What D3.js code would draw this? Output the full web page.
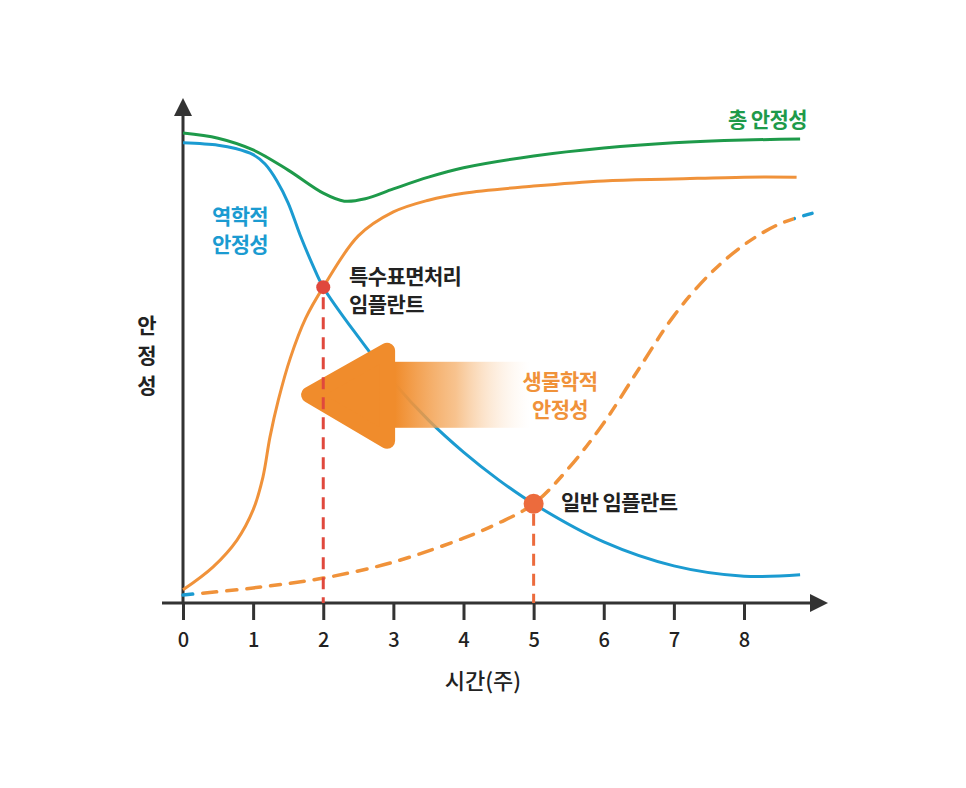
<!DOCTYPE html>
<html>
<head>
<meta charset="utf-8">
<script src="https://cdn.jsdelivr.net/npm/d3@7"></script>
<style>
  html, body { margin: 0; padding: 0; background: #fff; }
  svg { display: block; font-family: "Noto Sans CJK KR", "Noto Sans", sans-serif; }
</style>
</head>
<body>
<svg id="plot" width="966" height="788"></svg>
<script>
// weeks on the x axis
var weekTicks = [0, 1, 2, 3, 4, 5, 6, 7, 8];

// total stability (green)
var totalX = [0, 0.5, 1, 1.5, 2, 2.3, 2.6, 3, 3.5, 4, 5, 6, 7, 8, 8.8];
var totalY = [100, 98.9, 96.4, 92.1, 87.2, 85.5, 86.0, 88.1, 90.6, 92.6, 95.1, 96.8, 97.9, 98.5, 98.7];

// mechanical stability (blue)
var mechX = [0, 0.5, 0.75, 1, 1.17, 1.34, 1.5, 1.67, 1.85, 2, 2.5, 3, 3.5, 4, 4.5, 5, 6, 7, 8, 8.8];
var mechY = [97.9, 97.4, 96.7, 95.4, 93.4, 89.8, 85.1, 78.3, 71.9, 67.2, 56.6, 47.0, 38.9, 32.1, 26.2, 21.1, 13.0, 7.9, 5.7, 6.0];

// biological stability, surface treated implant (orange solid)
var bioSurfX = [0, 0.43, 0.77, 1, 1.14, 1.24, 1.36, 1.53, 1.75, 2, 2.5, 3, 3.5, 4, 5, 6, 7, 8, 8.75];
var bioSurfY = [2.8, 7.7, 13.4, 19.8, 26.8, 35.3, 43.2, 52.1, 60.6, 67.2, 78.1, 83.2, 85.7, 87.2, 88.7, 89.8, 90.2, 90.6, 90.6];

// biological stability, regular implant (orange dashed)
var bioRegX = [0, 1, 2, 3, 4, 4.5, 5, 5.5, 6, 6.5, 7, 7.5, 8, 8.5, 8.97];
var bioRegY = [1.7, 3.2, 5.3, 8.7, 13.8, 17.0, 21.1, 28.7, 38.3, 49.8, 61.1, 69.8, 76.2, 80.6, 82.9];

// crossing points
var markWeeks = [2, 5];
var markValues = [67.2, 21.1];

var green = "#1e9a4a", blue = "#1b9bd1", orange = "#f0923a";

whenDocumentLoaded(function () {
	var svg = d3.select("#plot");
	var xscale = d3.scaleLinear().domain([0, 8]).range([183, 744]);
	var yscale = d3.scaleLinear().domain([0, 100]).range([603, 133]);

	function zip(xs, ys) {
		return xs.map(function (x, i) { return { week: x, value: ys[i] }; });
	}
	var line = d3.line()
		.x(function (d) { return xscale(d.week); })
		.y(function (d) { return yscale(d.value); })
		.curve(d3.curveCatmullRom.alpha(0.5));

	var defs = svg.append("defs");
	// dashed line: blue first and last dash, orange in between
	var dg = defs.append("linearGradient").attr("id", "dashGrad")
		.attr("gradientUnits", "userSpaceOnUse")
		.attr("x1", xscale(0)).attr("x2", xscale(8.97)).attr("y1", 0).attr("y2", 0);
	var f1 = 0.02, f2 = 0.972;
	dg.append("stop").attr("offset", 0).attr("stop-color", blue);
	dg.append("stop").attr("offset", f1).attr("stop-color", blue);
	dg.append("stop").attr("offset", f1).attr("stop-color", orange);
	dg.append("stop").attr("offset", f2).attr("stop-color", orange);
	dg.append("stop").attr("offset", f2).attr("stop-color", blue);
	dg.append("stop").attr("offset", 1).attr("stop-color", blue);

	// axes
	var axisColor = "#333333";
	var xAxis = d3.axisBottom(xscale).tickValues(weekTicks).tickSize(17).tickPadding(13);
	var gx = svg.append("g").attr("transform", "translate(0," + yscale(0) + ")").call(xAxis);
	gx.select(".domain").remove();
	gx.selectAll(".tick line").attr("stroke", axisColor).attr("stroke-width", 3);
	gx.selectAll(".tick text").attr("fill", "#222").attr("font-size", 20)
		.attr("font-weight", 500)
		.attr("font-family", "'Noto Sans CJK KR', sans-serif");

	svg.append("line").attr("x1", 162).attr("x2", 812)
		.attr("y1", yscale(0)).attr("y2", yscale(0))
		.attr("stroke", axisColor).attr("stroke-width", 3);
	svg.append("path")
		.attr("d", "M810," + (yscale(0) - 9) + "L828," + yscale(0) + "L810," + (yscale(0) + 9) + "Z")
		.attr("fill", axisColor);
	svg.append("line").attr("x1", xscale(0)).attr("x2", xscale(0))
		.attr("y1", yscale(0)).attr("y2", 112)
		.attr("stroke", axisColor).attr("stroke-width", 3);
	svg.append("path")
		.attr("d", "M" + (xscale(0) - 9) + ",116L" + xscale(0) + ",98L" + (xscale(0) + 9) + ",116Z")
		.attr("fill", axisColor);

	// curves
	svg.append("path").attr("d", line(zip(bioRegX, bioRegY)))
		.attr("fill", "none").attr("stroke", "url(#dashGrad)")
		.attr("stroke-width", 3.5).attr("stroke-dasharray", "10 10 14 10")
		.attr("stroke-linecap", "round");
	svg.append("path").attr("d", line(zip(totalX, totalY)))
		.attr("fill", "none").attr("stroke", green).attr("stroke-width", 3);
	svg.append("path").attr("d", line(zip(bioSurfX, bioSurfY)))
		.attr("fill", "none").attr("stroke", orange).attr("stroke-width", 3);
	svg.append("path").attr("d", line(zip(mechX, mechY)))
		.attr("fill", "none").attr("stroke", blue).attr("stroke-width", 3);

	// big arrow (weeks 1.67 -> 4.95, at value 44.3)
	var tipX = xscale(1.67), tailX = xscale(4.95), midY = yscale(44.3);
	var headX = tipX + 90;
	var ag = defs.append("linearGradient").attr("id", "arrowGrad")
		.attr("gradientUnits", "userSpaceOnUse")
		.attr("x1", headX + 5).attr("x2", tailX).attr("y1", 0).attr("y2", 0);
	ag.append("stop").attr("offset", 0).attr("stop-color", "#f08c2c").attr("stop-opacity", 1);
	ag.append("stop").attr("offset", 0.45).attr("stop-color", "#f4a95e").attr("stop-opacity", 0.7);
	ag.append("stop").attr("offset", 1).attr("stop-color", "#fde6cf").attr("stop-opacity", 0);
	svg.append("rect").attr("x", headX - 4).attr("y", midY - 33)
		.attr("width", tailX - headX + 4).attr("height", 66)
		.attr("fill", "url(#arrowGrad)");
	svg.append("path")
		.attr("d", "M" + (tipX + 9) + "," + midY + "L" + (headX - 3) + "," + (midY - 44) +
			"L" + (headX - 3) + "," + (midY + 46) + "Z")
		.attr("fill", "#f08c2c").attr("stroke", "#f08c2c")
		.attr("stroke-width", 16).attr("stroke-linejoin", "round");

	// drop lines and points
	var dropColors = ["#e0483d", "#ec6b3d"];
	var radii = [7, 10];
	markWeeks.forEach(function (w, i) {
		svg.append("line").attr("x1", xscale(w)).attr("x2", xscale(w))
			.attr("y1", yscale(markValues[i]) + 10).attr("y2", yscale(0))
			.attr("stroke", dropColors[i]).attr("stroke-width", 3)
			.attr("stroke-dasharray", "12 8");
	});
	markWeeks.forEach(function (w, i) {
		svg.append("circle").attr("cx", xscale(w)).attr("cy", yscale(markValues[i]))
			.attr("r", radii[i]).attr("fill", dropColors[i]);
	});

	// labels (one text per line)
	function label(lines, x, y, color, anchor, gap) {
		lines.forEach(function (s, i) {
			svg.append("text").attr("x", x).attr("y", y + i * (gap || 26))
				.attr("fill", color).attr("font-size", 21)
				.attr("font-weight", 700).attr("text-anchor", anchor)
				.attr("letter-spacing", -0.6)
				.text(s);
		});
	}
	label(["역학적", "안정성"], 240, 224, blue, "middle", 28);
	label(["생물학적", "안정성"], 560, 389, orange, "middle", 28);
	label(["특수표면처리", "임플란트"], 349, 284, "#222", "start", 28);
	label(["일반 임플란트"], 561, 510, "#222", "start");
	label(["총 안정성"], 807, 127, green, "end");

	// axis titles
	svg.append("text").attr("x", 483).attr("y", 689).attr("text-anchor", "middle")
		.attr("font-size", 22).attr("font-weight", 500).attr("fill", "#222").text("시간(주)");
	["안", "정", "성"].forEach(function (c, i) {
		svg.append("text").attr("x", 147).attr("y", 333 + i * 30)
			.attr("font-size", 21).attr("font-weight", 700)
			.attr("fill", "#222").attr("text-anchor", "middle").text(c);
	});
});

function whenDocumentLoaded(action) {
	if (document.readyState === "loading") {
		document.addEventListener("DOMContentLoaded", action);
	} else {
		action();
	}
}
</script>
</body>
</html>
